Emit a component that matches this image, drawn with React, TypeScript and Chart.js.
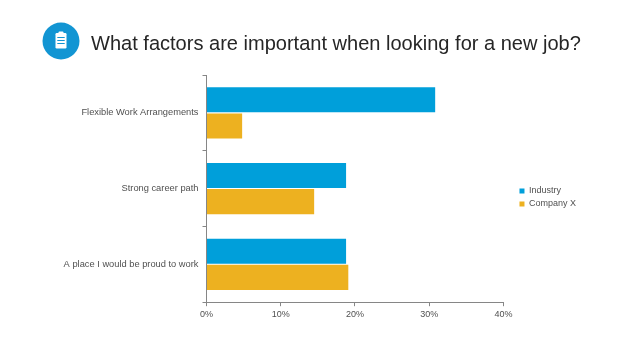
import React, { useEffect, useRef } from "react";
import { Chart, registerables } from "chart.js";

Chart.register(...registerables);

const categories = ["Flexible Work Arrangements", "Strong career path", "A place I would be proud to work"];
const industry = [30.8, 18.8, 18.8];
const companyX = [4.8, 14.5, 19.1];
const titleText = "What factors are important when looking for a new job?";
const FONT = "'Liberation Sans', Arial, sans-serif";
const TEXT = "#505050";
const AXIS = "#868686";

const legendShift = {
  id: "legendShift",
  afterLayout(chart: any) {
    chart.legend.left += 12;
    chart.legend.right += 12;
    chart.legend.top -= 1.5;
    chart.legend.bottom -= 1.5;
  },
};

export default function App() {
  const ref = useRef<HTMLCanvasElement>(null);
  useEffect(() => {
    document.body.style.margin = "0";
    const chart = new Chart(ref.current!, {
      type: "bar",
      data: {
        labels: categories,
        datasets: [
          { label: "Industry", data: industry, backgroundColor: "#009FDA", categoryPercentage: 0.69, barPercentage: 0.96 },
          { label: "Company X", data: companyX, backgroundColor: "#EDB120", categoryPercentage: 0.69, barPercentage: 0.96 },
        ],
      },
      options: {
        indexAxis: "y",
        animation: false,
        responsive: false,
        layout: { padding: { top: 75, bottom: 36, left: 0, right: 64 } },
        plugins: {
          tooltip: { enabled: false },
          legend: {
            position: "right",
            labels: {
              boxWidth: 5,
              boxHeight: 5,
              padding: 4,
              color: TEXT,
              font: { family: FONT, size: 9 },
            },
          },
        },
        scales: {
          x: {
            min: 0,
            max: 40,
            ticks: { stepSize: 10, callback: (v: any) => v + "%", color: TEXT, font: { family: FONT, size: 9 }, maxRotation: 0, padding: 3 },
            grid: { drawOnChartArea: false, color: AXIS, tickLength: 4, tickColor: AXIS },
            border: { color: AXIS },
          },
          y: {
            afterFit: (s: any) => { s.width = 206.5; },
            ticks: { color: TEXT, font: { family: FONT, size: 9.3 }, padding: 4, crossAlign: "near" },
            grid: { drawOnChartArea: false, color: AXIS, tickLength: 4, tickColor: AXIS, offset: true },
            border: { color: AXIS },
          },
        },
      },
      plugins: [legendShift],
    } as any);
    return () => chart.destroy();
  }, []);

  return (
    <div style={{ position: "relative", width: 638, height: 359, background: "#fff", overflow: "hidden" }}>
      <canvas ref={ref} width={638} height={359} style={{ position: "absolute", left: 0, top: 0 }} />
      <svg width={38} height={38} viewBox="0 0 38 38" style={{ position: "absolute", left: 42, top: 21.5 }}>
        <circle cx={19} cy={19} r={18.5} fill="#1295D3" />
        <rect x={13.5} y={11} width={11} height={15.5} rx={1.2} fill="#fff" />
        <rect x={16.5} y={9.5} width={5} height={3} rx={1} fill="#fff" />
        <rect x={15.3} y={15} width={7.4} height={1} fill="#1295D3" />
        <rect x={15.3} y={18} width={7.4} height={1} fill="#1295D3" />
        <rect x={15.3} y={21} width={7.4} height={1} fill="#1295D3" />
      </svg>
      <div style={{ position: "absolute", left: 91, top: 30, fontFamily: FONT, fontSize: 20.05, lineHeight: "26px", color: "#262626", whiteSpace: "nowrap" }}>
        {titleText}
      </div>
    </div>
  );
}
